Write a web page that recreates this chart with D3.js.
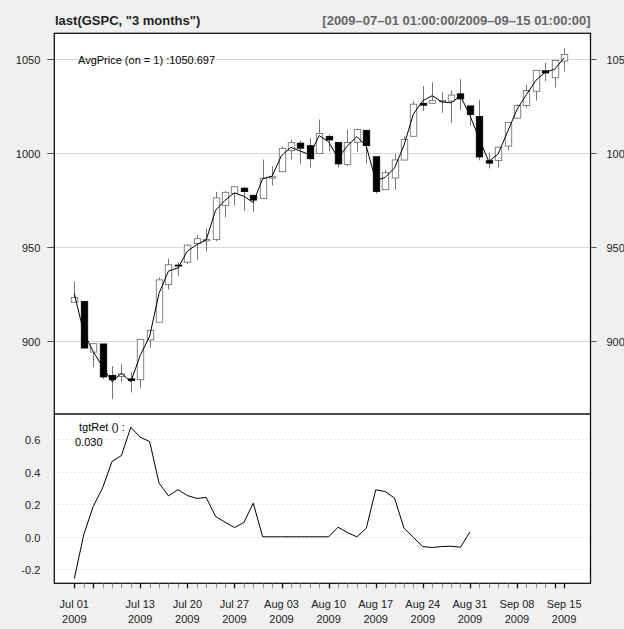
<!DOCTYPE html>
<html>
<head>
<meta charset="utf-8">
<script src="https://cdn.jsdelivr.net/npm/d3@7"></script>
<style>
html,body{margin:0;padding:0;background:#f0f0f0;}
svg{display:block;}
text{font-family:"Liberation Sans",Arial,Helvetica,sans-serif;}
</style>
</head>
<body>
<svg id="chart" width="624" height="629"></svg>
<script>
// ---- data (S&P 500, 2009-07-01 .. 2009-09-15) ----
const dates = ["07-01","07-02","07-06","07-07","07-08","07-09","07-10","07-13","07-14","07-15","07-16","07-17",
"07-20","07-21","07-22","07-23","07-24","07-27","07-28","07-29","07-30","07-31",
"08-03","08-04","08-05","08-06","08-07","08-10","08-11","08-12","08-13","08-14",
"08-17","08-18","08-19","08-20","08-21","08-24","08-25","08-26","08-27","08-28","08-31",
"09-01","09-02","09-03","09-04","09-08","09-09","09-10","09-11","09-14","09-15"];
const open  = [920.82,921.24,894.27,898.60,881.90,881.28,880.03,879.57,900.77,910.15,930.17,940.56,
942.07,951.97,953.40,954.07,972.16,978.63,981.48,977.66,976.01,986.80,
990.22,1001.41,1005.41,1004.06,999.83,1008.89,1005.77,994.00,1005.86,1012.23,
998.18,980.62,986.88,996.41,1009.06,1026.59,1026.63,1027.35,1027.81,1031.62,1025.21,
1019.52,996.07,996.12,1003.84,1018.67,1025.36,1032.99,1043.92,1040.15,1049.03];
const high  = [931.92,921.24,898.72,898.60,886.80,887.86,883.57,901.05,905.84,933.95,943.96,941.89,
951.62,956.53,959.83,979.42,979.79,982.49,982.35,977.76,996.68,993.18,
1003.61,1007.12,1006.64,1008.00,1018.00,1010.12,1005.77,1012.78,1013.14,1012.60,
998.18,991.20,999.61,1008.92,1027.59,1035.82,1037.75,1032.47,1033.33,1039.47,1025.21,
1028.45,1000.34,1003.43,1016.48,1026.07,1036.34,1044.14,1048.18,1049.74,1056.04];
const low   = [920.82,896.42,886.36,879.93,869.32,878.45,872.81,875.32,896.50,910.15,927.45,934.65,
940.99,943.22,947.75,953.27,965.95,972.29,969.35,968.65,976.01,982.85,
990.22,996.68,994.31,992.49,999.83,1000.99,992.40,993.36,1000.82,994.60,
978.51,980.62,980.62,996.39,1009.06,1022.48,1026.21,1021.57,1016.20,1023.13,1014.62,
996.28,991.97,992.25,1001.65,1018.67,1023.97,1028.04,1038.40,1035.00,1043.42];
const close = [923.33,896.42,898.72,881.03,879.56,882.68,879.13,901.05,905.84,932.68,940.74,940.38,
951.13,954.58,954.07,976.29,979.26,982.18,979.62,975.15,986.75,987.48,
1002.63,1005.65,1002.72,997.08,1010.48,1007.10,994.35,1005.81,1012.73,1004.09,
979.73,989.67,996.46,1007.37,1026.13,1025.57,1028.00,1028.12,1030.98,1028.93,1020.62,
998.04,994.75,1003.24,1016.40,1025.39,1033.37,1044.14,1042.73,1049.34,1052.63];
const tgtRet = [-0.258,0.012,0.186,0.300,0.463,0.500,0.674,0.613,0.586,0.330,0.252,0.290,
0.254,0.236,0.242,0.125,0.090,0.057,0.088,0.207,0.000,0.000,
0.000,0.000,0.000,0.000,0.000,0.000,0.059,0.026,0.000,0.053,
0.289,0.279,0.238,0.053,-0.004,-0.060,-0.066,-0.060,-0.058,-0.064,0.030];
const priceTicks = [900,950,1000,1050];
const retTicks = [-0.2,0.0,0.2,0.4,0.6];
const xLabelIdx = [0,7,12,17,22,27,32,37,42,47,52];
const xLabels = ["Jul 01","Jul 13","Jul 20","Jul 27","Aug 03","Aug 10","Aug 17","Aug 24","Aug 31","Sep 08","Sep 15"];
const majorIdx = [0,2,7,12,17,22,27,32,37,42,47,51,52];
const titleLeft = 'last(GSPC, "3 months")';
const titleRight = "[2009\u201307\u201301 01:00:00/2009\u201309\u201315 01:00:00]";

// ---- layout ----
const W = 624, H = 629;
const box = {l:54.3, r:590.5, t:33.3, b:583.3};
const split = 414;
const svg = d3.select("#chart");

const x = d3.scaleLinear().domain([0, 52]).range([74.3, 564.1]);
const y = d3.scaleLinear().domain([900, 1050]).range([341.3, 59.3]);
const y2 = d3.scaleLinear().domain([-0.2, 0.6]).range([569.3, 439.3]);

svg.append("rect").attr("width", W).attr("height", H).attr("fill", "#f0f0f0");
svg.append("rect").attr("x", box.l).attr("y", box.t).attr("width", box.r - box.l).attr("height", box.b - box.t).attr("fill", "#fff");

// main grid + ticks
priceTicks.forEach(v => {
  const yy = Math.round(y(v)) + 0.5;
  svg.append("line").attr("x1", box.l).attr("x2", box.r).attr("y1", yy).attr("y2", yy).attr("stroke", "#d9d9d9").attr("stroke-width", 1);
  svg.append("line").attr("x1", box.l - 7).attr("x2", box.l).attr("y1", yy).attr("y2", yy).attr("stroke", "#555");
  svg.append("line").attr("x1", box.r).attr("x2", box.r + 6).attr("y1", yy).attr("y2", yy).attr("stroke", "#555");
  svg.append("text").attr("x", box.l - 14).attr("y", yy + 4).attr("text-anchor", "end").attr("font-size", 11).attr("fill", "#222").text(v);
  svg.append("text").attr("x", box.r + 16).attr("y", yy + 4).attr("text-anchor", "start").attr("font-size", 11).attr("fill", "#222").text(v);
});

// lower grid
retTicks.forEach(v => {
  const yy = Math.round(y2(v)) + 0.5;
  svg.append("line").attr("x1", box.l).attr("x2", box.r).attr("y1", yy).attr("y2", yy).attr("stroke", "#c8c8c8").attr("stroke-width", 1).attr("stroke-dasharray", "1,3");
  svg.append("text").attr("x", box.l - 14).attr("y", yy + 4).attr("text-anchor", "end").attr("font-size", 11).attr("fill", "#222").text(v.toFixed(1));
});

// candles
const idx = d3.range(dates.length);
const bw = 6.5;
const g = svg.append("g");
g.selectAll("line.wick").data(idx).join("line")
  .attr("x1", i => Math.round(x(i)) + 0.5).attr("x2", i => Math.round(x(i)) + 0.5)
  .attr("y1", i => y(high[i])).attr("y2", i => y(low[i]))
  .attr("stroke", "#777").attr("stroke-width", 1);
g.selectAll("rect.body").data(idx).join("rect")
  .attr("x", i => Math.round(x(i)) + 0.5 - bw / 2)
  .attr("y", i => y(Math.max(open[i], close[i])))
  .attr("width", bw)
  .attr("height", i => Math.max(1, Math.abs(y(open[i]) - y(close[i]))))
  .attr("fill", i => close[i] >= open[i] ? "#fff" : "#000")
  .attr("stroke", i => close[i] >= open[i] ? "#666" : "#000")
  .attr("stroke-width", 0.8);

// AvgPrice (HLC/3)
const avg = idx.map(i => (high[i] + low[i] + close[i]) / 3);
svg.append("path").datum(idx)
  .attr("d", d3.line().x(i => x(i)).y(i => y(avg[i])))
  .attr("fill", "none").attr("stroke", "#000").attr("stroke-width", 1);
svg.append("text").attr("x", 78).attr("y", 64).attr("font-size", 11).attr("fill", "#000")
  .text("AvgPrice (on = 1) :" + avg[avg.length - 1].toFixed(3));

// tgtRet line
svg.append("path").datum(d3.range(tgtRet.length))
  .attr("d", d3.line().x(i => x(i)).y(i => y2(tgtRet[i])))
  .attr("fill", "none").attr("stroke", "#000").attr("stroke-width", 1);
svg.append("text").attr("x", 79).attr("y", 431).attr("font-size", 11).attr("fill", "#000").text("tgtRet () :");
svg.append("text").attr("x", 75).attr("y", 446).attr("font-size", 11).attr("fill", "#000").text(tgtRet[tgtRet.length - 1].toFixed(3));

// box and divider
svg.append("rect").attr("x", box.l).attr("y", box.t).attr("width", box.r - box.l).attr("height", box.b - box.t)
  .attr("fill", "none").attr("stroke", "#111").attr("stroke-width", 1.3);
svg.append("line").attr("x1", box.l).attr("x2", box.r).attr("y1", split).attr("y2", split).attr("stroke", "#111").attr("stroke-width", 1.3);

// x axis ticks
idx.forEach(i => {
  const xx = Math.round(x(i)) + 0.5;
  const maj = majorIdx.includes(i);
  svg.append("line").attr("x1", xx).attr("x2", xx).attr("y1", box.b).attr("y2", box.b + 5)
    .attr("stroke", maj ? "#111" : "#777").attr("stroke-width", maj ? 1.3 : 0.8);
});
xLabelIdx.forEach((i, k) => {
  svg.append("text").attr("x", x(i)).attr("y", 608).attr("text-anchor", "middle").attr("font-size", 11).attr("fill", "#222").text(xLabels[k]);
  svg.append("text").attr("x", x(i)).attr("y", 623).attr("text-anchor", "middle").attr("font-size", 11).attr("fill", "#222").text("2009");
});

// titles
svg.append("text").attr("x", 55).attr("y", 25).attr("font-size", 13).attr("font-weight", "bold").attr("fill", "#222").text(titleLeft);
svg.append("text").attr("x", box.r).attr("y", 25).attr("text-anchor", "end").attr("font-size", 13).attr("font-weight", "bold").attr("fill", "#666").text(titleRight);
</script>
</body>
</html>
